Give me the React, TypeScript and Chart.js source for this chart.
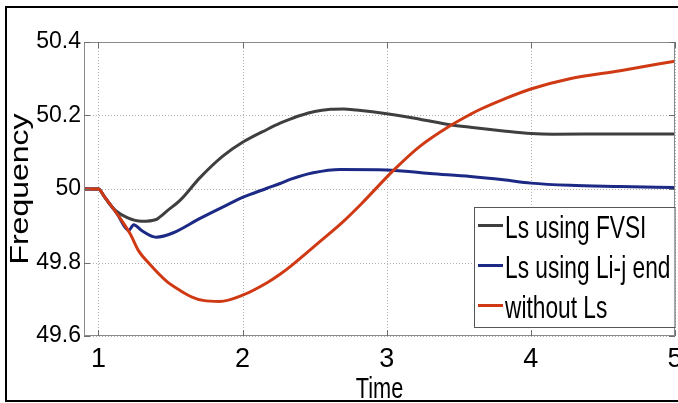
import React, { useEffect, useRef } from "react";
import { Chart, registerables } from "chart.js";

Chart.register(...registerables);

// ---- data ----
const seriesLabels = ["Ls using FVSI", "Ls using Li-j end", "without Ls"];
const seriesColors = ["#3f3f3f", "#1c2a86", "#cf3a14"];

const fvsiX = [0.9, 1.0, 1.04, 1.08, 1.12, 1.2, 1.3, 1.4, 1.42, 1.475, 1.566, 1.705, 1.865, 2.0, 2.17, 2.26, 2.33, 2.4, 2.5, 2.61, 2.7, 2.79, 3.0, 3.23, 3.44, 3.58, 3.81, 4.0, 4.15, 4.6, 5.0];
const fvsiY = [50, 50, 49.98, 49.958, 49.941, 49.922, 49.912, 49.917, 49.922, 49.94, 49.969, 50.031, 50.09, 50.127, 50.162, 50.179, 50.19, 50.2, 50.211, 50.217, 50.218, 50.215, 50.205, 50.19, 50.175, 50.168, 50.158, 50.151, 50.149, 50.15, 50.15];

const lijX = [0.9, 1.0, 1.04, 1.13, 1.21, 1.245, 1.3, 1.4, 1.52, 1.705, 1.91, 2.0, 2.17, 2.26, 2.33, 2.49, 2.68, 3.0, 3.3, 3.58, 3.81, 4.0, 4.27, 4.62, 5.0];
const lijY = [50, 50, 49.98, 49.932, 49.887, 49.903, 49.887, 49.869, 49.881, 49.92, 49.96, 49.977, 50.002, 50.015, 50.026, 50.044, 50.053, 50.052, 50.042, 50.034, 50.025, 50.016, 50.01, 50.007, 50.004];

const noLsX = [0.9, 1.0, 1.04, 1.13, 1.22, 1.28, 1.355, 1.47, 1.566, 1.65, 1.725, 1.84, 2.0, 2.17, 2.26, 2.35, 2.54, 2.7, 2.83, 3.045, 3.23, 3.44, 3.58, 3.65, 3.81, 4.0, 4.27, 4.62, 5.0];
const noLsY = [50, 50, 49.98, 49.932, 49.878, 49.831, 49.796, 49.75, 49.724, 49.706, 49.697, 49.694, 49.711, 49.745, 49.768, 49.795, 49.858, 49.912, 49.962, 50.05, 50.116, 50.172, 50.203, 50.217, 50.244, 50.272, 50.3, 50.322, 50.348];

const xTicks = [1, 2, 3, 4, 5];
const yTicks = [49.6, 49.8, 50, 50.2, 50.4];
const xRange = [0.9, 5];
const yRange = [49.6, 50.4];
const xTitle = "Time";
const yTitle = "Frequency";

const toPoints = (xs: number[], ys: number[]) => xs.map((x, i) => ({ x, y: ys[i] }));

export default function App() {
  const ref = useRef<HTMLCanvasElement | null>(null);

  useEffect(() => {
    const canvas = ref.current;
    if (!canvas) return;

    const decor = {
      id: "decor",
      beforeDraw(chart: any) {
        const ctx = chart.ctx;
        ctx.save();
        ctx.fillStyle = "#ffffff";
        ctx.fillRect(0, 0, chart.width, chart.height);
        ctx.restore();
      },
      beforeDatasetsDraw(chart: any) {
        const ctx = chart.ctx;
        const a = chart.chartArea;
        const xs = chart.scales.x;
        const ys = chart.scales.y;
        ctx.save();
        ctx.strokeStyle = "#b0b0b0";
        ctx.lineWidth = 1;
        ctx.setLineDash([1, 2]);
        ctx.beginPath();
        xTicks.forEach((t) => {
          const px = Math.round(xs.getPixelForValue(t)) + 0.5;
          ctx.moveTo(px, a.top);
          ctx.lineTo(px, a.bottom);
        });
        yTicks.forEach((t) => {
          const py = Math.round(ys.getPixelForValue(t)) + 0.5;
          ctx.moveTo(a.left, py);
          ctx.lineTo(a.right, py);
        });
        ctx.stroke();
        ctx.restore();
      },
      afterDraw(chart: any) {
        const ctx = chart.ctx;
        const a = chart.chartArea;
        const xs = chart.scales.x;
        const ys = chart.scales.y;
        ctx.save();
        // plot frame
        ctx.strokeStyle = "#8a8a8a";
        ctx.lineWidth = 1;
        ctx.strokeRect(a.left + 0.5, a.top + 0.5, a.right - a.left - 1, a.bottom - a.top - 1);
        // inner tick marks
        ctx.strokeStyle = "#6e6e6e";
        ctx.beginPath();
        xTicks.forEach((t) => {
          const px = Math.round(xs.getPixelForValue(t)) + 0.5;
          ctx.moveTo(px, a.bottom);
          ctx.lineTo(px, a.bottom - 6);
          ctx.moveTo(px, a.top);
          ctx.lineTo(px, a.top + 6);
        });
        yTicks.forEach((t) => {
          const py = Math.round(ys.getPixelForValue(t)) + 0.5;
          ctx.moveTo(a.left, py);
          ctx.lineTo(a.left + 6, py);
          ctx.moveTo(a.right, py);
          ctx.lineTo(a.right - 6, py);
        });
        ctx.stroke();

        // axis titles
        ctx.fillStyle = "#000000";
        ctx.save();
        ctx.translate((a.left + a.right) / 2, 398);
        ctx.scale(0.75, 1);
        ctx.font = '29px "Liberation Sans", Arial, sans-serif';
        ctx.textAlign = "center";
        ctx.textBaseline = "alphabetic";
        ctx.fillText(xTitle, 0, 0);
        ctx.restore();

        ctx.save();
        ctx.translate(28, (a.top + a.bottom) / 2);
        ctx.rotate(-Math.PI / 2);
        ctx.scale(1, 0.78);
        ctx.font = '32px "Liberation Sans", Arial, sans-serif';
        ctx.textAlign = "center";
        ctx.textBaseline = "alphabetic";
        ctx.fillText(yTitle, 0, 0);
        ctx.restore();

        // legend
        const bx = 474.5, by = 207.5, bw = a.right - 474.5, bh = 120;
        ctx.fillStyle = "#ffffff";
        ctx.fillRect(bx, by, bw, bh);
        ctx.strokeStyle = "#555555";
        ctx.lineWidth = 1;
        ctx.strokeRect(bx, by, bw, bh);
        chart.data.datasets.forEach((ds: any, i: number) => {
          const base = 238 + i * 40;
          ctx.strokeStyle = ds.borderColor;
          ctx.lineWidth = 3;
          ctx.beginPath();
          ctx.moveTo(478, base - 12.5);
          ctx.lineTo(503, base - 12.5);
          ctx.stroke();
          ctx.save();
          ctx.translate(505, base);
          ctx.scale(0.71, 1);
          ctx.fillStyle = "#000000";
          ctx.font = '32px "Liberation Sans", Arial, sans-serif';
          ctx.textAlign = "left";
          ctx.textBaseline = "alphabetic";
          ctx.fillText(ds.label, 0, 0);
          ctx.restore();
        });

        // outer figure border
        ctx.strokeStyle = "#000000";
        ctx.lineWidth = 2;
        ctx.strokeRect(6, 7, 720, 394);
        ctx.restore();
      },
    };

    const datasets = [
      { label: seriesLabels[0], data: toPoints(fvsiX, fvsiY), borderColor: seriesColors[0], order: 2 },
      { label: seriesLabels[1], data: toPoints(lijX, lijY), borderColor: seriesColors[1], order: 1 },
      { label: seriesLabels[2], data: toPoints(noLsX, noLsY), borderColor: seriesColors[2], order: 0 },
    ].map((d) => ({
      ...d,
      borderWidth: 3,
      pointRadius: 0,
      fill: false,
      tension: 0,
      cubicInterpolationMode: "monotone" as const,
    }));

    const chart = new Chart(canvas, {
      type: "line",
      data: { datasets },
      plugins: [decor],
      options: {
        animation: false,
        responsive: false,
        devicePixelRatio: 1,
        layout: { padding: { left: 0, top: 42, right: 3, bottom: 0 } },
        plugins: { legend: { display: false }, tooltip: { enabled: false } },
        scales: {
          x: {
            type: "linear",
            min: xRange[0],
            max: xRange[1],
            afterBuildTicks: (s: any) => {
              s.ticks = xTicks.map((v) => ({ value: v }));
            },
            afterFit: (s: any) => {
              s.height = 67;
              s.paddingLeft = 0;
              s.paddingRight = 0;
            },
            grid: { display: false, drawTicks: false },
            border: { display: false },
            ticks: {
              color: "#000000",
              padding: 7,
              font: { family: '"Liberation Sans", Arial, sans-serif', size: 27 },
              callback: (v: any) => String(v),
            },
          },
          y: {
            type: "linear",
            min: yRange[0],
            max: yRange[1],
            afterBuildTicks: (s: any) => {
              s.ticks = yTicks.map((v) => ({ value: v }));
            },
            afterFit: (s: any) => {
              s.width = 84;
              s.paddingTop = 0;
              s.paddingBottom = 0;
            },
            grid: { display: false, drawTicks: false },
            border: { display: false },
            ticks: {
              color: "#000000",
              padding: 3,
              font: { family: '"Liberation Sans", Arial, sans-serif', size: 23 },
              callback: (v: any) => String(Math.round(v * 10) / 10),
            },
          },
        },
      },
    });

    return () => chart.destroy();
  }, []);

  return (
    <div style={{ position: "absolute", left: 0, top: 0, width: 678, height: 403 }}>
      <canvas ref={ref} width={678} height={403} style={{ display: "block" }} />
    </div>
  );
}
